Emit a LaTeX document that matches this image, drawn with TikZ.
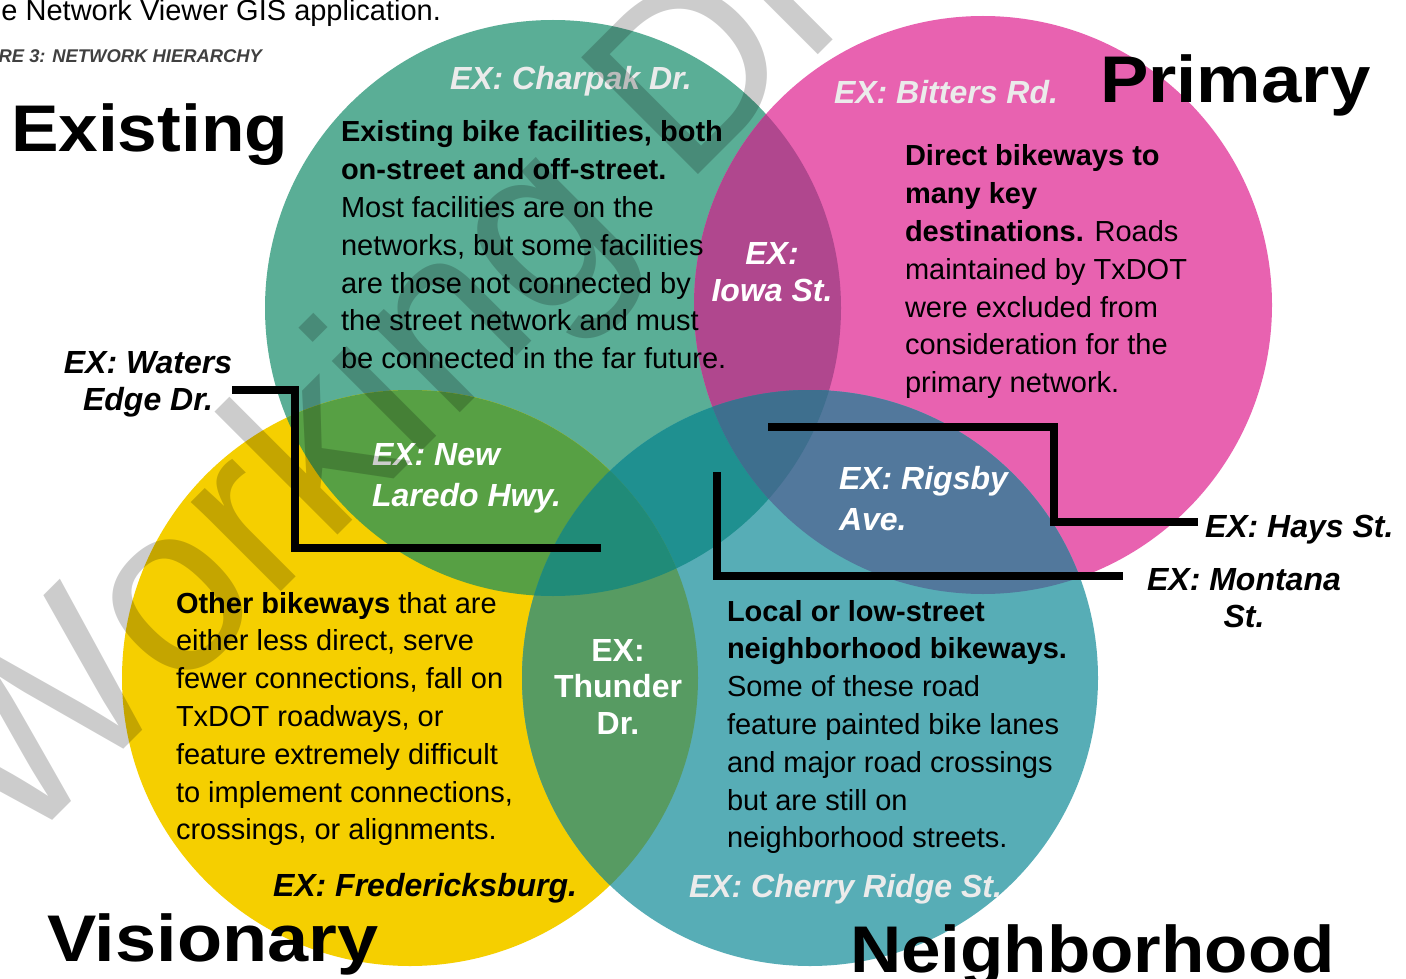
\documentclass[tikz,border=0pt]{standalone}
\usepackage{fontspec}
\setmainfont{Liberation Sans}
\usepackage{graphicx}
\definecolor{cTeal}{HTML}{5AAE96}
\definecolor{cPink}{HTML}{E862B0}
\definecolor{cYellow}{HTML}{F5CF00}
\definecolor{cBlue}{HTML}{57ADB6}
\definecolor{cTP}{HTML}{B0478E}
\definecolor{cTY}{HTML}{57A044}
\definecolor{cTN}{HTML}{1F9090}
\definecolor{cPN}{HTML}{52789C}
\definecolor{cYN}{HTML}{579B62}
\definecolor{cTPN}{HTML}{3E6F8E}
\definecolor{cTYN}{HTML}{208B78}
\definecolor{cLight}{HTML}{EBEBEB}
\definecolor{cCap}{HTML}{404040}
\newcommand{\mlines}[2]{\begin{tabular}[t]{@{}#1@{}}#2\end{tabular}}
\begin{document}
\begin{tikzpicture}[x=1pt,y=-1pt,
  every node/.style={inner sep=0pt,outer sep=0pt},
  body/.style={font=\fontsize{29}{37.8}\selectfont,anchor=base west},
  exlab/.style={font=\fontsize{32}{37}\selectfont\bfseries\itshape},
  exwide/.style={font=\fontsize{32}{41}\selectfont\bfseries\itshape},
  title/.style={font=\fontsize{66}{70}\selectfont\bfseries,anchor=base west},
  leader/.style={line width=7.5pt,line join=miter,draw=black}]
\useasboundingbox (0,0) rectangle (1406,979);
\clip (0,0) rectangle (1406,979);
\fill[white] (0,0) rectangle (1406,979);
% circle centres
\coordinate (cE) at (553,308);
\coordinate (cP) at (983,305);
\coordinate (cV) at (410,678);
\coordinate (cN) at (810,678);
\def\rE{288pt}\def\rP{289pt}\def\rV{288pt}\def\rN{288pt}
% base circles
\fill[cTeal] (cE) circle[radius=\rE];
\fill[cPink] (cP) circle[radius=\rP];
\fill[cYellow] (cV) circle[radius=\rV];
\fill[cBlue] (cN) circle[radius=\rN];
% pairwise overlaps
\begin{scope}\clip (cE) circle[radius=\rE]; \fill[cTP] (cP) circle[radius=\rP];\end{scope}
\begin{scope}\clip (cE) circle[radius=\rE]; \fill[cTY] (cV) circle[radius=\rV];\end{scope}
\begin{scope}\clip (cE) circle[radius=\rE]; \fill[cTN] (cN) circle[radius=\rN];\end{scope}
\begin{scope}\clip (cP) circle[radius=\rP]; \fill[cPN] (cN) circle[radius=\rN];\end{scope}
\begin{scope}\clip (cV) circle[radius=\rV]; \fill[cYN] (cN) circle[radius=\rN];\end{scope}
% triple overlaps
\begin{scope}\clip (cE) circle[radius=\rE]; \clip (cP) circle[radius=\rP]; \fill[cTPN] (cN) circle[radius=\rN];\end{scope}
\begin{scope}\clip (cE) circle[radius=\rE]; \clip (cV) circle[radius=\rV]; \fill[cTYN] (cN) circle[radius=\rN];\end{scope}

% header texts
\node[font=\fontsize{29}{34}\selectfont,anchor=base east] (hdr) at (441,21) {e Network Viewer GIS application.};
\node[font=\fontsize{18.4}{22}\selectfont\bfseries\itshape,text=cCap,anchor=base east] (fig) at (262,63) {RE 3: NETWORK HIERARCHY};

% titles
\node[title] (tEx) at (11,152) {\scalebox{1.08}[1]{Existing}};
\node[title] (tPr) at (1100,103) {\scalebox{1.10}[1]{Primary}};
\node[title] (tVi) at (47,961) {\scalebox{1.12}[1]{Visionary}};
\node[title] (tNe) at (850,972) {\scalebox{1.075}[1]{Neighborhood}};

% body texts
\node[body] (bEx) at (341,142) {\mlines{l}{\textbf{Existing bike facilities, both}\\
\textbf{on-street and off-street.}\\
Most facilities are on the\\
networks, but some facilities\\
are those not connected by\\
the street network and must\\
be connected in the far future.}};
\node[body] (bPr) at (905,166) {\mlines{l}{\textbf{Direct bikeways to}\\
\textbf{many key}\\
\textbf{destinations.} Roads\\
maintained by TxDOT\\
were excluded from\\
consideration for the\\
primary network.}};
\node[body] (bVi) at (176,613) {\mlines{l}{\textbf{Other bikeways} that are\\
either less direct, serve\\
fewer connections, fall on\\
TxDOT roadways, or\\
feature extremely difficult\\
to implement connections,\\
crossings, or alignments.}};
\begin{scope}
\clip (700,580) rectangle (1100,852);
\node[body] (bNe) at (727,621) {\mlines{l}{\textbf{Local or low-street}\\
\textbf{neighborhood bikeways.}\\
Some of these road\\
feature painted bike lanes\\
and major road crossings\\
but are still on\\
neighborhood streets.}};
\end{scope}

% example labels
\node[exlab,text=cLight,anchor=base west] (xCh) at (450,90) {EX: Charpak Dr.};
\node[exlab,text=cLight,anchor=base west] (xBi) at (834,104) {EX: Bitters Rd.};
\node[exlab,text=white,anchor=base] (xIo) at (772,264) {\mlines{c}{EX:\\Iowa St.}};
\node[exlab,text=black,anchor=base] (xWa) at (148,373) {\mlines{c}{EX: Waters\\Edge Dr.}};
\node[exwide,text=white,anchor=base west] (xNL) at (372,465) {\mlines{l}{EX: New\\Laredo Hwy.}};
\node[exwide,text=white,anchor=base west] (xRi) at (839,489) {\mlines{l}{EX: Rigsby\\Ave.}};
\node[exlab,text=black,anchor=base west] (xHa) at (1205,537) {EX: Hays St.};
\node[exlab,text=black,anchor=base] (xMo) at (1244,590) {\mlines{c}{EX: Montana\\St.}};
\node[font=\fontsize{32}{36.5}\selectfont\bfseries,text=white,anchor=base] (xTh) at (618,661) {\mlines{c}{EX:\\Thunder\\Dr.}};
\node[exlab,text=black,anchor=base west] (xFr) at (273,896) {EX: Fredericksburg.};
\node[exlab,text=cLight,anchor=base west] (xCr) at (689,897) {EX: Cherry Ridge St.};

% leader lines
\coordinate (wA) at (232,390);
\coordinate (wB) at (295,548);
\coordinate (wC) at (601,548);
\draw[leader] (wA) -| (wB) -- (wC);
\coordinate (hA) at (768,427);
\coordinate (hB) at (1054,522);
\coordinate (hC) at (1198,522);
\draw[leader] (hA) -| (hB) -- (hC);
\coordinate (mA) at (717,472);
\coordinate (mB) at (1123,576);
\draw[leader] (mA) |- (mB);

% watermark
\node[rotate=45,anchor=base west,font=\fontsize{240}{240}\selectfont,text=black,text opacity=0.2] (wm) at (18,855) {Working Draft};
\end{tikzpicture}
\end{document}
